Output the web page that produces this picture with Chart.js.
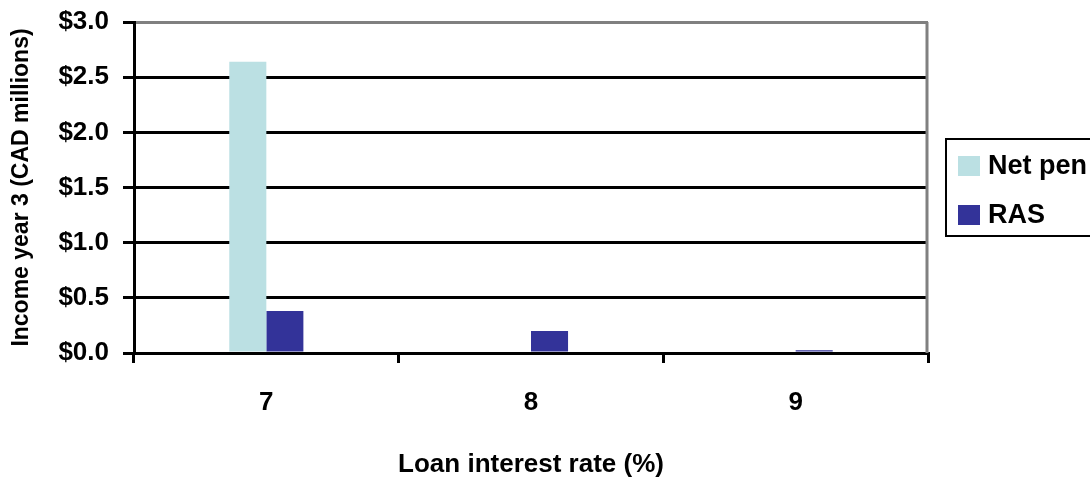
<!DOCTYPE html>
<html>
<head>
<meta charset="utf-8">
<title>Income year 3</title>
<script src="https://cdn.jsdelivr.net/npm/chart.js@4.4.1/dist/chart.umd.min.js"></script>
<style>
  html, body { margin: 0; padding: 0; background: #fff; }
  #wrap { width: 1090px; height: 480px; position: relative; }
</style>
</head>
<body>
<div id="wrap"><canvas id="incomeChart" width="1090" height="480"></canvas></div>
<script>
// Loan interest rate categories (%)
const rates = ["7", "8", "9"];

// Income in year 3, CAD millions
const netPenValues = [2.64, 0, 0];
const rasValues = [0.38, 0.2, 0.025];

const FONT = "'Liberation Sans', Arial, sans-serif";

// Legend drawn in a box on the right, like the old spreadsheet style
const boxLegend = {
  id: "boxLegend",
  afterDraw(chart) {
    const c = chart.ctx;
    const x = 946, y = 139, w = 160, h = 97;
    c.save();
    c.strokeStyle = "#000";
    c.lineWidth = 2;
    c.strokeRect(x, y, w, h);
    c.font = "bold 27px " + FONT;
    c.textBaseline = "middle";
    chart.data.datasets.forEach((ds, i) => {
      const cy = y + 27 + i * 49;
      c.fillStyle = ds.backgroundColor;
      c.fillRect(x + 12, cy - 10, 22, 20);
      c.fillStyle = "#000";
      c.fillText(ds.label, x + 42, cy + 1);
    });
    c.restore();
  },
};

// Gray right edge of the plot area
const rightEdge = {
  id: "rightEdge",
  beforeDatasetsDraw(chart) {
    const { ctx, chartArea } = chart;
    ctx.save();
    ctx.strokeStyle = "#808080";
    ctx.lineWidth = 3;
    ctx.beginPath();
    ctx.moveTo(chartArea.right - 1, chartArea.top);
    ctx.lineTo(chartArea.right - 1, chartArea.bottom);
    ctx.stroke();
    ctx.restore();
  },
};

new Chart(document.getElementById("incomeChart"), {
  type: "bar",
  data: {
    labels: rates,
    datasets: [
      {
        label: "Net pen",
        data: netPenValues,
        backgroundColor: "#BBE0E3",
        categoryPercentage: 0.28,
        barPercentage: 1.0,
      },
      {
        label: "RAS",
        data: rasValues,
        backgroundColor: "#333399",
        categoryPercentage: 0.28,
        barPercentage: 1.0,
      },
    ],
  },
  options: {
    responsive: false,
    animation: false,
    layout: {
      padding: { left: 0, right: 162, top: 22, bottom: 0 },
    },
    plugins: {
      legend: { display: false },
      tooltip: { enabled: false },
    },
    scales: {
      x: {
        afterFit(scale) {
          scale.height = 127;
        },
        grid: {
          offset: true,
          drawOnChartArea: false,
          tickColor: "#000",
          lineWidth: 3,
          tickLength: 10,
        },
        border: { color: "#000", width: 3 },
        ticks: {
          color: "#000",
          padding: 24,
          font: { family: FONT, size: 26, weight: "bold" },
        },
        title: {
          display: true,
          text: "Loan interest rate (%)",
          color: "#000",
          padding: { top: 0, bottom: 0 },
          font: { family: FONT, size: 26, weight: "bold" },
        },
      },
      y: {
        min: 0,
        max: 3,
        afterFit(scale) {
          scale.width = 134;
          // top label may overhang the plot edge
          scale.paddingTop = 0;
        },
        grid: {
          color: (ctx) => (ctx.tick && ctx.tick.value === 3 ? "#808080" : "#000"),
          tickColor: "#000",
          lineWidth: 3,
          tickLength: 11,
        },
        border: { color: "#000", width: 3 },
        ticks: {
          stepSize: 0.5,
          color: "#000",
          padding: 14,
          font: { family: FONT, size: 26, weight: "bold" },
          callback: function (value) {
            return "$" + value.toFixed(1);
          },
        },
        title: {
          display: true,
          text: "Income year 3 (CAD millions)",
          color: "#000",
          padding: { top: 8, bottom: 0 },
          font: { family: FONT, size: 23, weight: "bold" },
        },
      },
    },
  },
  plugins: [rightEdge, boxLegend],
});
</script>
</body>
</html>
